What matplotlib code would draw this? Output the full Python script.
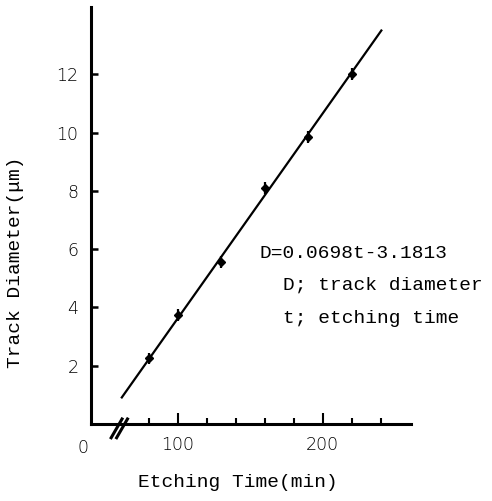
import numpy as np
import matplotlib
matplotlib.use("Agg")
import matplotlib.pyplot as plt

# data
etch_time = [80, 100, 130, 160, 190, 220]          # min
track_diam = [2.25, 3.75, 5.55, 8.1, 9.85, 12.0]    # um
diam_err = [0.2, 0.2, 0.2, 0.2, 0.2, 0.2]

# fitted line as drawn (end points)
fit_t = [61, 241]
fit_d = [0.88, 13.53]

major_x = [100, 200]
minor_x = [80, 120, 140, 160, 180, 220, 240]
y_ticks = [2, 4, 6, 8, 10, 12]

mono = "Liberation Mono"
sans = "DejaVu Sans"

fig = plt.figure(figsize=(4.92, 5.01), dpi=100)
ax = fig.add_axes([0.185, 0.1537, 0.650, 0.832])

ax.plot(fit_t, fit_d, color="black", lw=1.6, solid_capstyle="butt")
ax.errorbar(etch_time, track_diam, yerr=diam_err, fmt="D", ms=4,
            color="black", ecolor="black", elinewidth=1.6, capsize=0)

ax.set_xlim(40.2, 260.9)
ax.set_ylim(0, 14.3)

for s in ["top", "right"]:
    ax.spines[s].set_visible(False)
for s in ["left", "bottom"]:
    ax.spines[s].set_linewidth(2.2)

ax.set_xticks(major_x)
ax.set_xticklabels([str(v) for v in major_x])
ax.set_xticks(minor_x, minor=True)
ax.tick_params(axis="x", which="major", direction="in", length=8, width=1.5,
               pad=9, labelsize=12.5)
ax.tick_params(axis="x", which="minor", direction="in", length=4, width=1.5)
ax.set_yticks(y_ticks)
ax.tick_params(axis="y", direction="in", length=5, width=1.8, pad=9,
               labelsize=12.5)
for lab in ax.get_xticklabels() + ax.get_yticklabels():
    lab.set_family(sans)
    lab.set_fontweight("light")

ax.text(-0.025, -0.0576, "0", transform=ax.transAxes, ha="center",
        va="center", fontsize=12.5, family=sans, fontweight="light")

# axis break marks
for dx in [0.0, 0.017]:
    ax.plot([0.063 + dx, 0.097 + dx], [-0.033, 0.012], transform=ax.transAxes,
            color="black", lw=2.2, clip_on=False)

ax.set_xlabel("Etching Time(min)", family=mono, fontsize=14)
ax.set_ylabel("Track Diameter(\u03bcm)", family=mono, fontsize=14)
ax.xaxis.set_label_coords(0.459, -0.1415)
ax.yaxis.set_label_coords(-0.2375, 0.389)
ax.xaxis.label.set_va("center")
ax.yaxis.label.set_va("center")

ax.text(0.528, 0.41, "D=0.0698t-3.1813", transform=ax.transAxes,
        family=mono, fontsize=14, va="center", ha="left")
ax.text(0.60, 0.333, "D; track diameter", transform=ax.transAxes,
        family=mono, fontsize=14, va="center", ha="left", clip_on=False)
ax.text(0.60, 0.254, "t; etching time", transform=ax.transAxes,
        family=mono, fontsize=14, va="center", ha="left")

fig.savefig("out.png", dpi=100)
